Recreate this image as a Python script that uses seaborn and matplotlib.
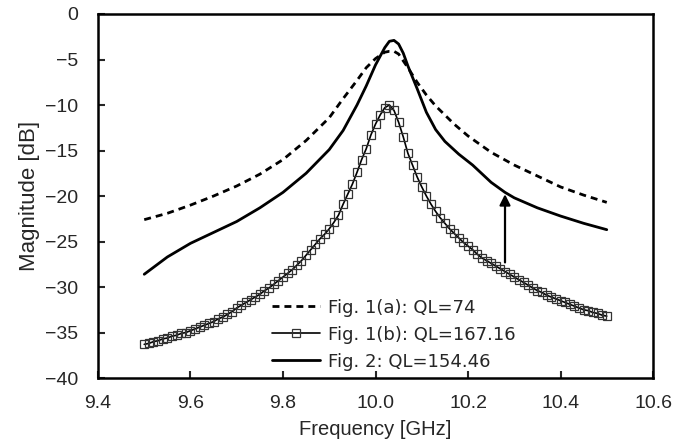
import matplotlib
matplotlib.use('Agg')

import matplotlib.pyplot as plt
import seaborn as sns
import numpy as np
import pandas as pd

# ---- data ----
freq_a = [9.50, 9.55, 9.60, 9.65, 9.70, 9.75, 9.80, 9.85, 9.90, 9.93,
          9.96, 9.98, 10.00, 10.02, 10.03, 10.04, 10.05, 10.07, 10.09, 10.11,
          10.13, 10.15, 10.17, 10.20, 10.25, 10.30, 10.35, 10.40, 10.45, 10.50]
mag_a = [-22.6, -21.9, -21.0, -20.0, -18.9, -17.6, -16.0, -13.9, -11.4, -9.3,
         -7.3, -5.9, -4.9, -4.2, -4.1, -4.1, -4.4, -5.9, -7.5, -8.9,
         -10.1, -11.1, -12.1, -13.4, -15.2, -16.6, -17.8, -19.0, -19.9, -20.7]

freq_b = [round(9.50 + 0.01 * i, 2) for i in range(101)]
mag_b = [-36.3, -36.2, -36.0, -35.9, -35.7, -35.6, -35.4, -35.3, -35.1, -35.0,
         -34.8, -34.6, -34.4, -34.2, -34.0, -33.8, -33.5, -33.3, -33.0, -32.7,
         -32.3, -32.0, -31.7, -31.4, -31.1, -30.8, -30.4, -30.1, -29.7, -29.3,
         -28.9, -28.5, -28.1, -27.6, -27.1, -26.5, -25.9, -25.3, -24.7, -24.2,
         -23.6, -22.9, -22.1, -20.9, -19.8, -18.7, -17.4, -16.0, -14.8, -13.3,
         -12.1, -11.1, -10.3, -10.0, -10.6, -11.9, -13.5, -15.3, -16.6, -17.9,
         -19.0, -20.0, -20.9, -21.7, -22.4, -23.0, -23.6, -24.1, -24.6, -25.1,
         -25.5, -25.9, -26.4, -26.8, -27.1, -27.4, -27.7, -28.0, -28.3, -28.6,
         -28.9, -29.2, -29.5, -29.8, -30.1, -30.4, -30.6, -30.9, -31.1, -31.3,
         -31.5, -31.7, -31.9, -32.1, -32.3, -32.5, -32.6, -32.8, -32.9, -33.1,
         -33.2]

freq_2 = [9.50, 9.55, 9.60, 9.65, 9.70, 9.75, 9.80, 9.85, 9.90, 9.93,
          9.96, 9.98, 10.00, 10.02, 10.03, 10.04, 10.05, 10.06, 10.07, 10.09,
          10.11, 10.13, 10.15, 10.18, 10.21, 10.25, 10.28, 10.30, 10.35, 10.40,
          10.45, 10.50]
mag_2 = [-28.6, -26.7, -25.2, -24.0, -22.8, -21.3, -19.6, -17.5, -14.9, -12.8,
         -10.0, -7.9, -5.6, -3.7, -3.0, -2.9, -3.3, -4.3, -5.7, -8.2,
         -10.8, -12.7, -14.0, -15.4, -16.6, -18.5, -19.6, -20.2, -21.3, -22.2,
         -23.0, -23.7]

labels = ["Fig. 1(a): QL=74", "Fig. 1(b): QL=167.16", "Fig. 2: QL=154.46"]
x_ticks = [9.4, 9.6, 9.8, 10.0, 10.2, 10.4, 10.6]
y_ticks = [-40, -35, -30, -25, -20, -15, -10, -5, 0]

df_a = pd.DataFrame({"f": freq_a, "m": mag_a})
df_b = pd.DataFrame({"f": freq_b, "m": mag_b})
df_2 = pd.DataFrame({"f": freq_2, "m": mag_2})

sns.set_style("white")
plt.rcParams['font.family'] = ['Liberation Sans', 'DejaVu Sans']

fig = plt.figure(figsize=(6.73, 4.43), dpi=100)
ax = fig.add_axes([0.1456, 0.1467, 0.8247, 0.8217])

sns.lineplot(data=df_a, x="f", y="m", ax=ax, color='black', linewidth=2,
             linestyle=(0, (2.5, 1.8)), label=labels[0])
sns.lineplot(data=df_b, x="f", y="m", ax=ax, color='black', linewidth=1.2,
             marker='s', markersize=5.5, markerfacecolor='none',
             markeredgecolor='#333333', markeredgewidth=0.9, label=labels[1])
sns.lineplot(data=df_2, x="f", y="m", ax=ax, color='black', linewidth=2,
             label=labels[2])

# 箭头：从 Fig.1(b) 指向 Fig.2
ax.annotate("", xy=(10.28, -19.8), xytext=(10.28, -27.3),
            arrowprops=dict(arrowstyle='-|>', color='black', lw=1.6,
                            mutation_scale=16, shrinkA=0, shrinkB=0))

ax.set_xlim(9.4, 10.6)
ax.set_ylim(-40, 0)
ax.set_xticks(x_ticks)
ax.set_xticklabels([f"{v:.1f}" for v in x_ticks])
ax.set_yticks(y_ticks)
ax.set_xlabel("Frequency [GHz]", fontsize=14.5, labelpad=6)
ax.set_ylabel("Magnitude [dB]", fontsize=16, labelpad=4)
ax.tick_params(axis='both', direction='in', length=5, width=1.5,
               labelsize=14, left=True, bottom=True)
ax.tick_params(axis='x', pad=12)
ax.tick_params(axis='y', pad=14)
for s in ax.spines.values():
    s.set_linewidth(1.8)
    s.set_color('black')

leg = ax.legend(loc='lower left', bbox_to_anchor=(0.313, 0.02), frameon=False,
                prop={'family': 'DejaVu Sans', 'size': 13},
                handlelength=2.7, handletextpad=0.4,
                labelspacing=0.5, borderaxespad=0, borderpad=0)

fig.savefig("out.png", dpi=100)
